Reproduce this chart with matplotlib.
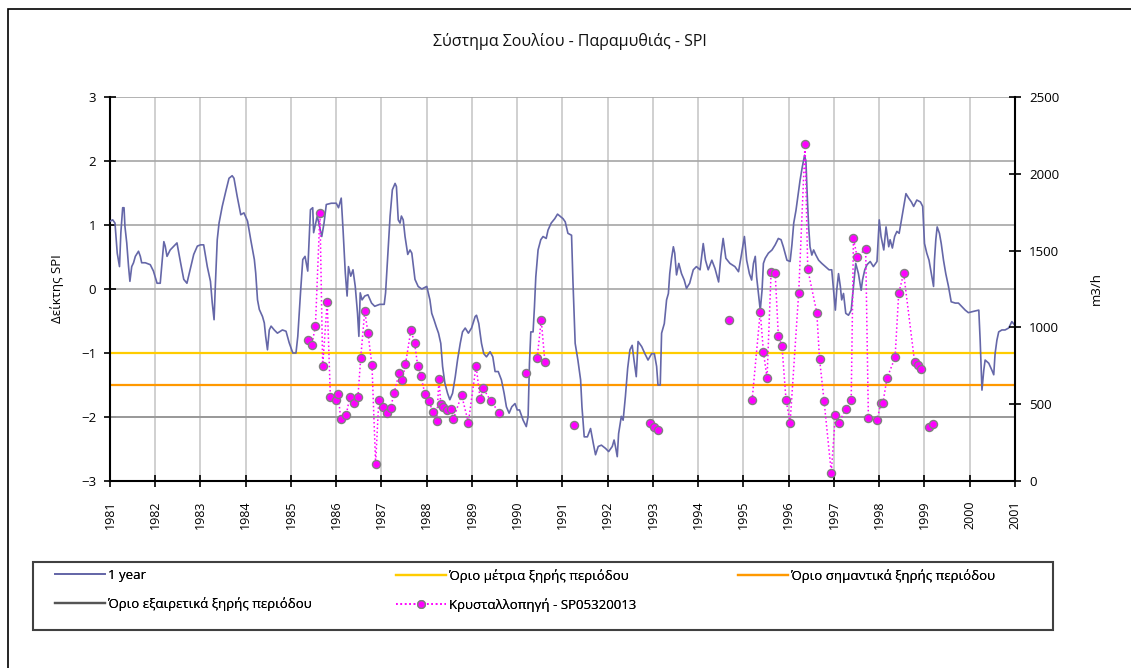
import numpy as np
import matplotlib
matplotlib.use("Agg")
import matplotlib.pyplot as plt
from matplotlib.lines import Line2D
from matplotlib.patches import Rectangle

plt.rcParams["font.family"] = ["Open Sans", "DejaVu Sans"]

# SPI 1 year
spi_year = [1981.0, 1981.06, 1981.11, 1981.16, 1981.21, 1981.24, 1981.28, 1981.31, 1981.33, 1981.37,
            1981.41, 1981.44, 1981.48, 1981.52, 1981.56, 1981.63, 1981.67, 1981.70, 1981.78, 1981.89,
            1981.96, 1982.04, 1982.11, 1982.19, 1982.22, 1982.26, 1982.33, 1982.41, 1982.48, 1982.56,
            1982.63, 1982.70, 1982.78, 1982.85, 1982.93, 1983.00, 1983.07, 1983.15, 1983.22, 1983.26,
            1983.30, 1983.33, 1983.37, 1983.41, 1983.48, 1983.56, 1983.63, 1983.70, 1983.74, 1983.81,
            1983.89, 1983.96, 1984.04, 1984.11, 1984.19, 1984.22, 1984.26, 1984.30, 1984.37, 1984.41,
            1984.44, 1984.48, 1984.52, 1984.56, 1984.63, 1984.70, 1984.81, 1984.89, 1984.96, 1985.04,
            1985.11, 1985.15, 1985.21, 1985.26, 1985.31, 1985.37, 1985.43, 1985.48, 1985.50, 1985.58,
            1985.63, 1985.68, 1985.73, 1985.78, 1985.89, 1986.00, 1986.05, 1986.11, 1986.15, 1986.20,
            1986.24, 1986.27, 1986.32, 1986.37, 1986.42, 1986.47, 1986.50, 1986.53, 1986.57, 1986.63,
            1986.70, 1986.78, 1986.85, 1986.96, 1987.06, 1987.09, 1987.13, 1987.19, 1987.24, 1987.30,
            1987.33, 1987.37, 1987.41, 1987.44, 1987.48, 1987.52, 1987.58, 1987.63, 1987.67, 1987.74,
            1987.81, 1987.89, 1988.00, 1988.07, 1988.11, 1988.16, 1988.21, 1988.26, 1988.31, 1988.35,
            1988.40, 1988.46, 1988.51, 1988.57, 1988.63, 1988.68, 1988.74, 1988.79, 1988.85, 1988.92,
            1988.99, 1989.07, 1989.10, 1989.15, 1989.21, 1989.26, 1989.32, 1989.40, 1989.46, 1989.51,
            1989.58, 1989.65, 1989.71, 1989.76, 1989.82, 1989.88, 1989.95, 1990.00, 1990.05, 1990.13,
            1990.20, 1990.24, 1990.27, 1990.30, 1990.35, 1990.38, 1990.41, 1990.46, 1990.52, 1990.57,
            1990.64, 1990.68, 1990.75, 1990.83, 1990.89, 1990.94, 1991.01, 1991.06, 1991.12, 1991.20,
            1991.23, 1991.28, 1991.34, 1991.40, 1991.43, 1991.48, 1991.55, 1991.62, 1991.68, 1991.73,
            1991.79, 1991.86, 1991.95, 1992.02, 1992.10, 1992.14, 1992.17, 1992.21, 1992.24, 1992.30,
            1992.34, 1992.39, 1992.44, 1992.49, 1992.54, 1992.58, 1992.63, 1992.67, 1992.75, 1992.82,
            1992.89, 1992.97, 1993.03, 1993.08, 1993.11, 1993.16, 1993.19, 1993.25, 1993.30, 1993.34,
            1993.37, 1993.41, 1993.45, 1993.48, 1993.52, 1993.57, 1993.63, 1993.69, 1993.74, 1993.81,
            1993.89, 1993.96, 1994.04, 1994.11, 1994.16, 1994.22, 1994.30, 1994.37, 1994.45, 1994.50,
            1994.55, 1994.61, 1994.70, 1994.81, 1994.89, 1994.96, 1995.02, 1995.07, 1995.13, 1995.18,
            1995.22, 1995.26, 1995.29, 1995.33, 1995.37, 1995.41, 1995.44, 1995.48, 1995.55, 1995.63,
            1995.70, 1995.77, 1995.83, 1995.88, 1995.96, 1996.03, 1996.07, 1996.11, 1996.16, 1996.20,
            1996.25, 1996.30, 1996.35, 1996.38, 1996.41, 1996.44, 1996.47, 1996.51, 1996.55, 1996.60,
            1996.66, 1996.73, 1996.81, 1996.89, 1996.95, 1996.99, 1997.03, 1997.06, 1997.10, 1997.14,
            1997.17, 1997.21, 1997.26, 1997.32, 1997.38, 1997.43, 1997.48, 1997.54, 1997.60, 1997.63,
            1997.68, 1997.73, 1997.80, 1997.87, 1997.95, 1998.00, 1998.04, 1998.10, 1998.15, 1998.21,
            1998.24, 1998.29, 1998.34, 1998.39, 1998.44, 1998.49, 1998.54, 1998.59, 1998.65, 1998.71,
            1998.76, 1998.83, 1998.91, 1998.96, 1999.00, 1999.05, 1999.10, 1999.15, 1999.20, 1999.22,
            1999.25, 1999.28, 1999.33, 1999.37, 1999.42, 1999.47, 1999.53, 1999.59, 1999.68, 1999.75,
            1999.83, 1999.90, 1999.97, 2000.08, 2000.20, 2000.23, 2000.27, 2000.31, 2000.34, 2000.42,
            2000.49, 2000.53, 2000.56, 2000.60, 2000.64, 2000.71, 2000.78, 2000.86, 2000.93, 2000.99]
spi_value = [1.06, 1.08, 1.03, 0.56, 0.35, 0.88, 1.27, 1.27, 0.98, 0.72,
             0.35, 0.12, 0.35, 0.41, 0.51, 0.59, 0.51, 0.41, 0.41, 0.38,
             0.28, 0.09, 0.09, 0.74, 0.67, 0.51, 0.61, 0.67, 0.72, 0.41,
             0.15, 0.09, 0.33, 0.54, 0.67, 0.69, 0.69, 0.35, 0.12, -0.22,
             -0.48, 0.09, 0.77, 1.03, 1.29, 1.53, 1.73, 1.77, 1.73, 1.45,
             1.16, 1.19, 1.06, 0.77, 0.46, 0.25, -0.17, -0.32, -0.43, -0.53,
             -0.74, -0.95, -0.64, -0.58, -0.64, -0.69, -0.64, -0.66, -0.84, -1.00,
             -1.00, -0.74, -0.06, 0.46, 0.51, 0.28, 1.24, 1.27, 0.88, 1.14,
             0.98, 0.82, 1.03, 1.32, 1.34, 1.34, 1.27, 1.42, 0.93, 0.25,
             -0.11, 0.35, 0.20, 0.30, 0.04, -0.38, -0.74, -0.06, -0.17, -0.11,
             -0.09, -0.22, -0.27, -0.24, -0.24, -0.06, 0.41, 1.14, 1.55, 1.65,
             1.60, 1.08, 1.03, 1.14, 1.08, 0.82, 0.54, 0.61, 0.56, 0.15,
             0.04, 0.00, 0.04, -0.17, -0.38, -0.48, -0.59, -0.69, -0.85, -1.21,
             -1.47, -1.63, -1.73, -1.63, -1.37, -1.11, -0.85, -0.67, -0.61, -0.69,
             -0.61, -0.43, -0.41, -0.54, -0.85, -1.01, -1.06, -0.98, -1.06, -1.29,
             -1.29, -1.42, -1.63, -1.84, -1.94, -1.84, -1.79, -1.89, -1.89, -2.05,
             -2.15, -1.99, -1.16, -0.67, -0.67, -0.28, 0.19, 0.61, 0.77, 0.82,
             0.79, 0.92, 1.03, 1.10, 1.17, 1.14, 1.10, 1.05, 0.87, 0.84,
             0.14, -0.85, -1.11, -1.42, -1.84, -2.31, -2.31, -2.18, -2.41, -2.59,
             -2.46, -2.44, -2.49, -2.54, -2.46, -2.36, -2.46, -2.62, -2.26, -1.99,
             -2.05, -1.68, -1.24, -0.95, -0.88, -1.11, -1.37, -0.82, -0.90, -1.01,
             -1.11, -1.01, -1.01, -1.21, -1.50, -1.50, -0.69, -0.54, -0.17, -0.07,
             0.24, 0.48, 0.66, 0.56, 0.22, 0.40, 0.24, 0.14, 0.01, 0.09,
             0.30, 0.35, 0.30, 0.71, 0.45, 0.30, 0.45, 0.32, 0.11, 0.51,
             0.79, 0.48, 0.40, 0.35, 0.27, 0.56, 0.82, 0.45, 0.24, 0.14,
             0.40, 0.51, 0.19, -0.07, -0.33, -0.02, 0.40, 0.48, 0.56, 0.61,
             0.69, 0.79, 0.77, 0.66, 0.45, 0.43, 0.69, 1.03, 1.23, 1.44,
             1.70, 1.91, 2.09, 1.99, 1.44, 0.97, 0.66, 0.53, 0.61, 0.53,
             0.45, 0.40, 0.35, 0.30, 0.30, -0.02, -0.33, -0.02, 0.24, 0.04,
             -0.17, -0.07, -0.38, -0.41, -0.33, 0.04, 0.40, 0.24, -0.02, 0.14,
             0.30, 0.38, 0.43, 0.35, 0.43, 1.08, 0.82, 0.61, 0.97, 0.66,
             0.77, 0.64, 0.82, 0.90, 0.87, 1.08, 1.29, 1.49, 1.42, 1.36,
             1.29, 1.39, 1.36, 1.29, 0.71, 0.56, 0.45, 0.24, 0.04, 0.45,
             0.77, 0.97, 0.87, 0.71, 0.45, 0.24, 0.04, -0.20, -0.22, -0.22,
             -0.28, -0.33, -0.37, -0.35, -0.33, -0.80, -1.58, -1.27, -1.11, -1.16,
             -1.27, -1.34, -1.01, -0.80, -0.67, -0.64, -0.64, -0.61, -0.51, -0.56]

# Κρυσταλλοπηγή flow (m3/h), nan = gap in the record
nan = np.nan
kp_year = [1985.37, 1985.46, 1985.54, 1985.64, 1985.70, 1985.80, 1985.87, 1985.99, 1986.04, 1986.10,
           1986.22, 1986.30, 1986.39, 1986.48, 1986.54, 1986.63, 1986.70, 1986.79, 1986.87, 1986.94,
           1987.04, 1987.13, 1987.20, 1987.28, 1987.39, 1987.46, 1987.53, 1987.65, 1987.73, 1987.80,
           1987.87, 1987.96, 1988.05, 1988.13, 1988.22, 1988.27, 1988.31, 1988.37, 1988.44, 1988.53,
           1988.59, 1988.77, 1988.92, 1989.09, 1989.18, 1989.25, 1989.41, 1989.60, nan, 1990.20,
           nan, 1990.44, 1990.53, 1990.61, nan, 1991.25, nan, 1992.93, 1993.03, 1993.11,
           nan, 1994.68, nan, 1995.19, 1995.37, 1995.44, 1995.52, 1995.61, 1995.70, 1995.77,
           1995.85, 1995.94, 1996.03, 1996.22, 1996.36, 1996.42, 1996.62, 1996.68, 1996.78, 1996.94,
           1997.03, 1997.10, 1997.26, 1997.38, 1997.43, 1997.51, 1997.70, 1997.76, 1997.95, 1998.04,
           1998.08, 1998.17, 1998.35, 1998.43, 1998.54, 1998.78, 1998.85, 1998.93, nan, 1999.09,
           1999.18]
kp_flow = [918, 885, 1009, 1747, 749, 1167, 549, 527, 566, 402,
           430, 549, 506, 549, 799, 1107, 965, 752, 111, 527,
           484, 445, 473, 575, 701, 658, 760, 983, 900, 751,
           684, 566, 523, 451, 393, 665, 501, 484, 462, 467,
           404, 560, 380, 751, 532, 603, 523, 445, nan, 705,
           nan, 799, 1048, 777, nan, 365, nan, 376, 350, 332,
           nan, 1048, nan, 525, 1102, 842, 668, 1363, 1356, 944,
           879, 527, 380, 1226, 2194, 1378, 1096, 796, 523, 54,
           430, 376, 467, 527, 1580, 1460, 1510, 408, 397, 510,
           506, 668, 805, 1222, 1352, 777, 755, 727, nan, 350,
           371]

years = list(range(1981, 2002))
dry_moderate = -1.0
dry_severe = -1.5
dry_extreme = -2.0


def main():
    fig = plt.figure(figsize=(11.31, 6.68), dpi=100)
    ax = fig.add_axes([110 / 1131, 1 - 481 / 668, 905 / 1131, 384 / 668])

    # chart frame (only the top/left edges fall inside the picture)
    fig.add_artist(Rectangle((8 / 1131, -0.5), 1.5, 0.5 + 1 - 9 / 668,
                             transform=fig.transFigure, fill=False,
                             edgecolor="black", lw=1.2))

    ax.set_xlim(1981, 2001)
    ax.set_ylim(-3, 3)
    ax.set_xticks(years)
    ax.set_xticklabels([str(y) for y in years], rotation=90, fontsize=9)
    ax.set_yticks(range(-3, 4))
    ax.tick_params(axis="y", direction="inout", length=8, width=1.2, labelsize=9.5, pad=6)
    ax.tick_params(axis="x", direction="inout", length=8, width=1.2, pad=10)
    ax.grid(axis="x", color="#c8c8c8", lw=1.2)
    ax.grid(axis="y", color="#a6a6a6", lw=1.2)
    ax.set_axisbelow(True)
    for side in ["top", "right"]:
        ax.spines[side].set_visible(False)
    ax.spines["left"].set_linewidth(1.5)
    ax.spines["bottom"].set_linewidth(1.5)

    ax.plot(spi_year, spi_value, color="#6567a8", lw=1.2, label="1 year", zorder=3)
    ax.axhline(dry_moderate, color="#ffcc00", lw=1.6, zorder=2)
    ax.axhline(dry_severe, color="#ff9900", lw=1.6, zorder=2)
    ax.axhline(dry_extreme, color="#9a9a9a", lw=1.4, zorder=2)

    ax.set_ylabel("Δείκτης SPI", fontsize=9.5, labelpad=12)
    fig.text(570 / 1131, 1 - 42 / 668, "Σύστημα Σουλίου - Παραμυθιάς - SPI",
             fontsize=11.5, ha="center", va="center", color="#111111")

    ax2 = ax.twinx()
    ax2.set_ylim(0, 2500)
    ax2.set_yticks(range(0, 2501, 500))
    ax2.tick_params(axis="y", direction="inout", length=8, width=1.2, labelsize=9.5, pad=6)
    for side in ["top", "left", "bottom"]:
        ax2.spines[side].set_visible(False)
    ax2.spines["right"].set_linewidth(1.5)
    ax2.plot(kp_year, kp_flow, color="#ff00ff", ls=":", lw=1.1,
             marker="o", ms=5.8, mfc="#ff00ff", mec="#808080", mew=1.0, zorder=4)
    ax2.set_ylabel("m3/h", fontsize=9.5, labelpad=22)

    # legend box laid out as in the original (3 columns, 2 rows)
    fig.add_artist(Rectangle((33 / 1131, 1 - 630 / 668), 1020 / 1131, 68 / 668,
                             transform=fig.transFigure, fill=False,
                             edgecolor="#404040", lw=1.5))
    h_year = Line2D([], [], color="#6567a8", lw=1.3)
    h_extreme = Line2D([], [], color="#555555", lw=1.6)
    h_moderate = Line2D([], [], color="#ffcc00", lw=1.6)
    h_kp = Line2D([], [], color="#ff00ff", ls=":", lw=1.2, marker="o", ms=5.5,
                  mfc="#ff00ff", mec="#808080")
    h_severe = Line2D([], [], color="#ff9900", lw=1.6)
    cols = [
        (55, [h_year, h_extreme], ["1 year", "Όριο εξαιρετικά ξηρής περιόδου"]),
        (396, [h_moderate, h_kp], ["Όριο μέτρια ξηρής περιόδου", "Κρυσταλλοπηγή - SP05320013"]),
        (738, [h_severe], ["Όριο σημαντικά ξηρής περιόδου"]),
    ]
    for x0, hs, ls in cols:
        leg = fig.legend(hs, ls, loc="upper left", bbox_to_anchor=(x0 / 1131, 1 - 569 / 668),
                         frameon=False, fontsize=9.5, handlelength=3.8, handletextpad=0.2,
                         labelspacing=1.15, borderpad=0, borderaxespad=0)
        fig.add_artist(leg)

    fig.savefig("out.png", dpi=100)


if __name__ == "__main__":
    main()
